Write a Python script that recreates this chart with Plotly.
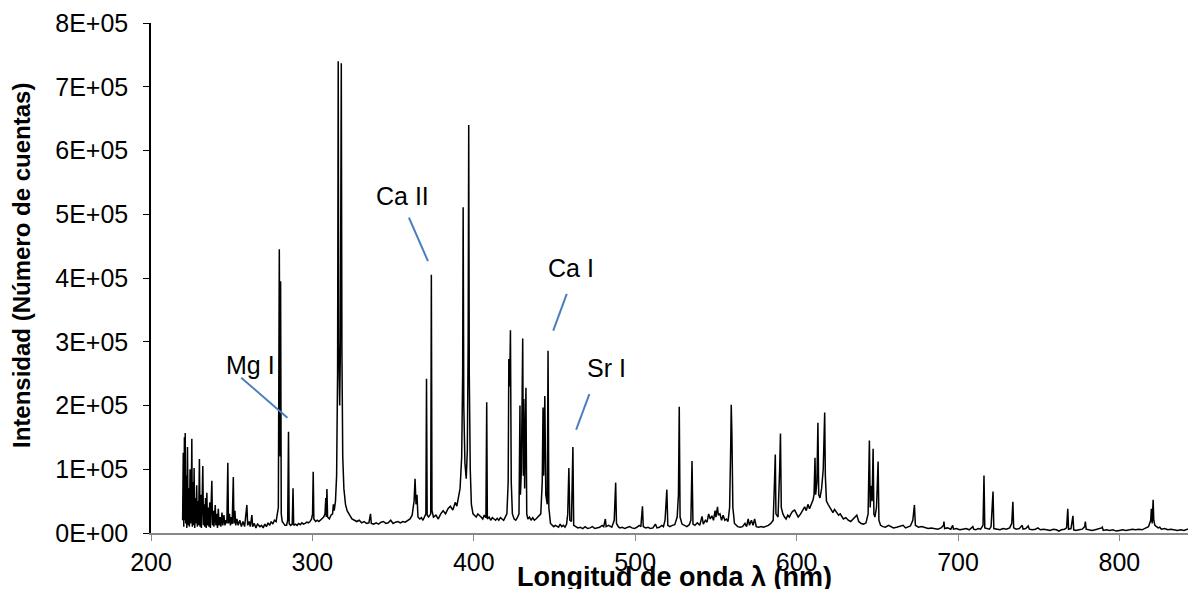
import plotly.graph_objects as go

# Wavelength (nm) and intensity (thousands of counts)
wavelength_nm = [
    219.6, 220.0, 220.3, 220.7, 221.0, 221.2, 221.5, 221.9, 222.2, 222.6, 223.0, 223.4, 223.8, 224.2, 224.6,
    225.0, 225.3, 225.6, 226.0, 226.4, 226.7, 227.1, 227.5, 227.9, 228.3, 228.7, 229.1, 229.5, 230.0, 230.4,
    230.8, 231.2, 231.6, 232.1, 232.5, 232.9, 233.3, 233.8, 234.2, 234.6, 235.0, 235.5, 235.9, 236.4, 236.8,
    237.7, 238.1, 238.6, 239.0, 239.8, 240.2, 240.7, 241.2, 241.7, 242.2, 242.8, 243.3, 244.0, 244.5, 245.2,
    245.8, 246.5, 247.0, 247.6, 248.0, 248.6, 249.2, 249.8, 250.3, 251.0, 251.4, 252.0, 252.5, 253.2, 254.0,
    255.0, 256.0, 257.0, 258.0, 259.4, 259.9, 260.8, 261.5, 262.5, 263.0, 264.0, 265.0, 266.0, 267.5, 268.5,
    269.5, 270.5, 271.5, 272.5, 273.5, 274.5, 275.5, 276.5, 277.5, 278.3, 278.9, 279.5, 280.0, 280.3, 280.7,
    281.3, 282.0, 283.0, 284.0, 284.7, 285.2, 285.6, 286.5, 287.5, 288.0, 288.4, 289.5, 290.5, 291.5, 292.5,
    293.5, 294.5, 295.5, 296.5, 297.5, 298.5, 299.5, 300.1, 300.5, 300.9, 302.0, 303.0, 304.0, 305.0, 306.0,
    307.0, 307.8, 308.3, 308.6, 309.0, 309.4, 310.5, 311.5, 312.5, 313.0, 313.5, 314.3, 315.0, 315.6, 316.0,
    316.3, 316.9, 317.3, 317.9, 318.3, 318.8, 319.5, 320.5, 321.5, 322.5, 323.5, 324.5, 326.0, 327.5, 329.0,
    330.5, 332.0, 333.5, 335.0, 336.0, 336.5, 338.0, 339.5, 341.0, 342.5, 344.0, 345.5, 347.0, 348.5, 350.0,
    351.5, 353.0, 354.5, 356.0, 357.5, 359.0, 360.5, 361.8, 363.0, 363.6, 364.2, 364.8, 365.4, 366.5, 367.5,
    368.5, 369.5, 370.3, 370.7, 371.1, 372.0, 373.3, 373.7, 374.1, 375.0, 376.5, 378.0, 379.5, 381.0, 382.5,
    384.0, 385.5, 387.0, 388.5, 389.5, 390.5, 391.5, 392.5, 393.1, 393.4, 393.8, 394.5, 395.3, 396.0, 396.5,
    396.85, 397.2, 397.8, 398.5, 399.5, 400.5, 401.5, 402.5, 403.5, 404.5, 405.5, 406.5, 407.5, 408.0, 408.4,
    409.5, 410.5, 411.5, 412.5, 413.5, 414.5, 415.5, 416.5, 417.5, 418.5, 419.5, 420.5, 421.3, 421.7, 422.2,
    422.7, 423.2, 423.9, 425.0, 426.0, 427.0, 428.0, 428.6, 428.9, 429.5, 430.3, 430.7, 431.0, 431.5, 432.3,
    432.8, 433.5, 434.5, 435.5, 436.5, 437.5, 438.5, 439.5, 440.5, 441.5, 442.4, 442.9, 443.3, 444.0, 444.6,
    445.5, 446.0, 446.5, 447.5, 448.5, 449.5, 450.5, 451.5, 452.5, 453.5, 454.5, 455.5, 456.5, 457.5, 458.2,
    458.9, 459.5, 460.5, 461.4, 461.9, 463.0, 464.5, 466.0, 467.5, 469.0, 470.5, 472.0, 473.5, 475.0, 476.5,
    478.0, 479.5, 480.5, 481.5, 482.0, 483.5, 484.5, 485.5, 487.0, 487.9, 488.4, 489.5, 490.5, 492.0, 493.5,
    495.0, 496.5, 498.0, 499.5, 501.0, 502.5, 503.5, 504.5, 505.0, 506.5, 508.0, 509.5, 511.0, 512.5, 513.5,
    515.0, 516.5, 517.5, 518.5, 519.6, 520.2, 521.5, 523.0, 524.5, 526.0, 526.8, 527.3, 527.8, 529.0, 530.5,
    532.0, 533.5, 534.5, 535.2, 535.8, 537.0, 538.5, 540.0, 541.4, 542.2, 543.5, 544.5, 545.5, 546.5, 547.5,
    548.5, 549.5, 550.0, 551.0, 551.5, 552.5, 553.5, 554.5, 555.5, 556.5, 557.5, 558.5, 559.2, 559.5, 559.9,
    560.5, 561.5, 562.5, 563.5, 565.0, 566.5, 568.0, 569.0, 570.0, 570.8, 572.0, 573.0, 574.0, 575.0, 576.5,
    578.0, 579.5, 581.0, 582.5, 584.0, 585.5, 586.3, 586.8, 587.2, 588.5, 589.5, 590.0, 590.5, 591.5, 592.5,
    593.5, 594.5, 595.5, 596.5, 597.5, 598.8, 599.8, 601.0, 602.5, 603.5, 605.0, 606.0, 607.0, 608.0, 609.3,
    610.2, 610.8, 611.4, 611.8, 612.6, 613.2, 613.7, 614.5, 615.5, 616.5, 617.0, 617.4, 617.8, 618.5, 619.5,
    620.5, 621.5, 622.5, 623.5, 624.8, 626.0, 627.0, 628.0, 629.0, 630.5, 632.0, 633.5, 635.0, 636.3, 637.3,
    638.5, 640.0, 641.5, 643.0, 644.3, 644.8, 645.1, 645.6, 646.2, 646.8, 647.4, 647.9, 648.5, 649.5, 650.1,
    650.5, 651.0, 652.0, 653.5, 655.0, 657.0, 658.5, 660.0, 662.0, 664.0, 666.0, 667.5, 669.0, 670.5, 672.0,
    672.6, 673.0, 673.6, 675.5, 677.5, 679.5, 681.5, 683.5, 685.5, 687.5, 689.5, 691.0, 691.3, 691.7, 693.5,
    695.5, 696.7, 697.2, 699.0, 701.0, 703.0, 705.0, 707.0, 708.5, 709.2, 709.7, 711.0, 712.5, 714.0, 715.5,
    716.1, 716.6, 718.0, 719.5, 720.5, 721.7, 722.2, 724.0, 726.0, 728.0, 730.0, 732.0, 733.3, 734.0, 734.5,
    736.0, 738.0, 739.8, 740.3, 742.0, 743.5, 744.2, 746.0, 748.0, 749.5, 751.0, 753.0, 755.0, 757.0, 759.0,
    761.0, 762.5, 764.0, 766.0, 767.3, 768.0, 768.5, 770.0, 771.2, 771.7, 773.0, 775.0, 777.0, 778.5, 778.9,
    779.4, 781.0, 783.0, 785.0, 787.0, 789.0, 789.4, 790.0, 792.0, 794.0, 796.0, 798.0, 800.0, 802.0, 804.0,
    806.0, 808.0, 810.0, 812.0, 814.0, 816.0, 818.0, 819.4, 819.8, 820.3, 820.9, 821.3, 822.0, 823.0, 824.0,
    825.0, 826.0, 828.0, 830.0, 832.0, 834.0, 836.0, 838.0, 840.0, 842.0, 844.0, 846.0, 848.0, 850.0,
]

intensity_k = [
    20, 126, 10, 150, 20, 157, 15, 90, 8, 135, 12, 70, 10, 100, 15,
    60, 148, 10, 80, 12, 102, 8, 55, 15, 75, 10, 50, 12, 116, 10,
    60, 8, 40, 105, 12, 45, 10, 55, 8, 63, 12, 40, 10, 48, 8,
    82, 12, 35, 10, 44, 12, 30, 8, 38, 12, 25, 10, 32, 12, 28,
    12, 20, 15, 110, 15, 30, 12, 25, 14, 88, 15, 35, 12, 22, 12,
    20, 10, 18, 10, 44, 12, 18, 10, 28, 10, 15, 8, 14, 10, 12,
    8, 14, 10, 16, 12, 18, 14, 20, 18, 28, 40, 445, 120, 395, 30,
    18, 15, 12, 12, 20, 159, 15, 12, 14, 70, 12, 14, 12, 15, 13,
    16, 14, 15, 17, 16, 18, 22, 30, 96, 22, 18, 20, 18, 20, 22,
    25, 30, 55, 25, 69, 25, 22, 28, 30, 45, 35, 50, 90, 250, 740,
    300, 200, 280, 737, 280, 120, 70, 45, 35, 30, 25, 22, 20, 18, 20,
    16, 18, 15, 16, 30, 15, 14, 16, 14, 17, 18, 15, 16, 20, 15,
    17, 18, 16, 18, 17, 20, 22, 28, 50, 85, 45, 60, 25, 22, 24,
    20, 25, 30, 242, 28, 25, 30, 405, 35, 25, 28, 22, 30, 35, 30,
    38, 42, 36, 48, 42, 55, 70, 120, 250, 511, 200, 110, 85, 130, 300,
    640, 250, 100, 45, 30, 28, 25, 30, 28, 25, 22, 28, 24, 205, 22,
    25, 20, 24, 22, 20, 23, 20, 24, 22, 20, 25, 30, 80, 273, 230,
    318, 80, 30, 22, 20, 24, 30, 200, 60, 100, 305, 90, 210, 70, 228,
    30, 22, 25, 20, 24, 20, 22, 25, 28, 30, 80, 197, 90, 215, 60,
    45, 286, 40, 15, 12, 10, 12, 10, 9, 14, 10, 12, 9, 14, 30,
    102, 20, 18, 135, 12, 10, 8, 9, 7, 10, 7, 8, 10, 7, 8,
    9, 12, 10, 22, 10, 12, 10, 9, 20, 79, 15, 10, 8, 9, 7,
    8, 10, 8, 7, 9, 12, 10, 42, 10, 8, 9, 7, 8, 14, 8,
    9, 12, 10, 20, 68, 12, 10, 12, 13, 25, 60, 198, 25, 14, 12,
    10, 13, 20, 113, 14, 12, 16, 12, 26, 14, 20, 17, 30, 22, 27,
    20, 35, 25, 41, 28, 30, 20, 28, 20, 22, 18, 40, 140, 201, 157,
    40, 15, 12, 10, 9, 10, 15, 10, 22, 12, 20, 12, 22, 10, 9,
    10, 9, 10, 12, 15, 20, 80, 123, 30, 25, 100, 156, 40, 30, 25,
    22, 28, 25, 30, 34, 36, 30, 25, 30, 35, 41, 35, 45, 38, 47,
    52, 60, 118, 60, 80, 173, 60, 55, 70, 100, 150, 189, 90, 50, 45,
    40, 35, 32, 37, 33, 28, 30, 26, 22, 24, 20, 18, 22, 24, 28,
    18, 15, 14, 16, 30, 100, 145, 40, 74, 50, 132, 30, 25, 40, 80,
    112, 20, 12, 10, 9, 12, 10, 8, 9, 10, 12, 8, 10, 11, 20,
    30, 44, 12, 9, 10, 8, 7, 8, 7, 6, 8, 12, 18, 7, 8,
    6, 12, 6, 7, 5, 6, 7, 5, 8, 10, 6, 5, 7, 6, 12,
    90, 8, 7, 6, 10, 65, 7, 6, 5, 7, 6, 8, 15, 49, 8,
    6, 7, 12, 6, 7, 11, 6, 5, 6, 8, 5, 6, 5, 4, 6,
    5, 3, 5, 6, 8, 38, 6, 7, 27, 5, 4, 5, 6, 10, 18,
    6, 5, 4, 5, 6, 8, 9, 4, 5, 4, 5, 3, 4, 5, 4,
    5, 6, 5, 6, 5, 7, 10, 20, 38, 15, 52, 20, 12, 10, 8,
    9, 6, 7, 5, 6, 5, 4, 5, 4, 6, 5, 8, 5, 4,
]

intensity = [v * 1000 for v in intensity_k]

x_ticks = [200, 300, 400, 500, 600, 700, 800]
y_tick_vals = [0, 100000, 200000, 300000, 400000, 500000, 600000, 700000, 800000]
y_tick_text = ["0E+00", "1E+05", "2E+05", "3E+05", "4E+05", "5E+05", "6E+05", "7E+05", "8E+05"]

# Element labels: text, text position (nm, counts), leader line from/to (nm, counts)
label_text = ["Mg I", "Ca II", "Ca I", "Sr I"]
label_x = [261.5, 355.9, 460.2, 482.0]
label_y = [264000, 528000, 416000, 259000]
leader_x0 = [255.9, 359.8, 457.6, 471.6]
leader_y0 = [243700, 494700, 375000, 218000]
leader_x1 = [284.5, 371.6, 449.2, 463.4]
leader_y1 = [180800, 426500, 317600, 162000]

FONT = "Arial, Liberation Sans, sans-serif"

fig = go.Figure()
fig.add_trace(go.Scatter(
    x=wavelength_nm, y=intensity, mode="lines",
    line=dict(color="black", width=1.5),
    showlegend=False, hoverinfo="x+y",
))

for i in range(len(label_text)):
    fig.add_shape(type="line", xref="x", yref="y",
                  x0=leader_x0[i], y0=leader_y0[i], x1=leader_x1[i], y1=leader_y1[i],
                  line=dict(color="#4A7EBB", width=2))
    fig.add_annotation(x=label_x[i], y=label_y[i], xref="x", yref="y",
                       text=label_text[i], showarrow=False,
                       font=dict(family=FONT, size=25, color="black"),
                       xanchor="center", yanchor="middle")

# Axis titles
fig.add_annotation(x=0.5048, y=-0.0863, xref="paper", yref="paper",
                   text="<b>Longitud de onda λ (nm)</b>", showarrow=False,
                   font=dict(family=FONT, size=27, color="black"),
                   xanchor="center", yanchor="middle")
fig.add_annotation(x=-0.1244, y=0.5255, xref="paper", yref="paper",
                   text="<b>Intensidad (Número de cuentas)</b>", showarrow=False,
                   textangle=-90,
                   font=dict(family=FONT, size=24, color="black"),
                   xanchor="center", yanchor="middle")

fig.update_layout(
    width=1180, height=581,
    margin=dict(l=143, r=0, t=15, b=56, autoexpand=False),
    paper_bgcolor="white", plot_bgcolor="white",
    font=dict(family=FONT, size=25, color="black"),
    xaxis=dict(
        range=[200, 842.5], tickvals=x_ticks, ticks="outside", ticklen=6,
        tickcolor="#888888", showline=True, linecolor="#888888", linewidth=2,
        showgrid=False, zeroline=False, tickfont=dict(size=25),
        ticklabelstandoff=0, automargin=False,
    ),
    yaxis=dict(
        range=[0, 800000], tickvals=y_tick_vals, ticktext=y_tick_text,
        ticks="outside", ticklen=6, tickcolor="black", showline=True,
        linecolor="black", linewidth=1.5, showgrid=False, zeroline=False,
        tickfont=dict(size=25), ticklabelstandoff=10, automargin=False,
    ),
)

fig.write_html("out.html")
